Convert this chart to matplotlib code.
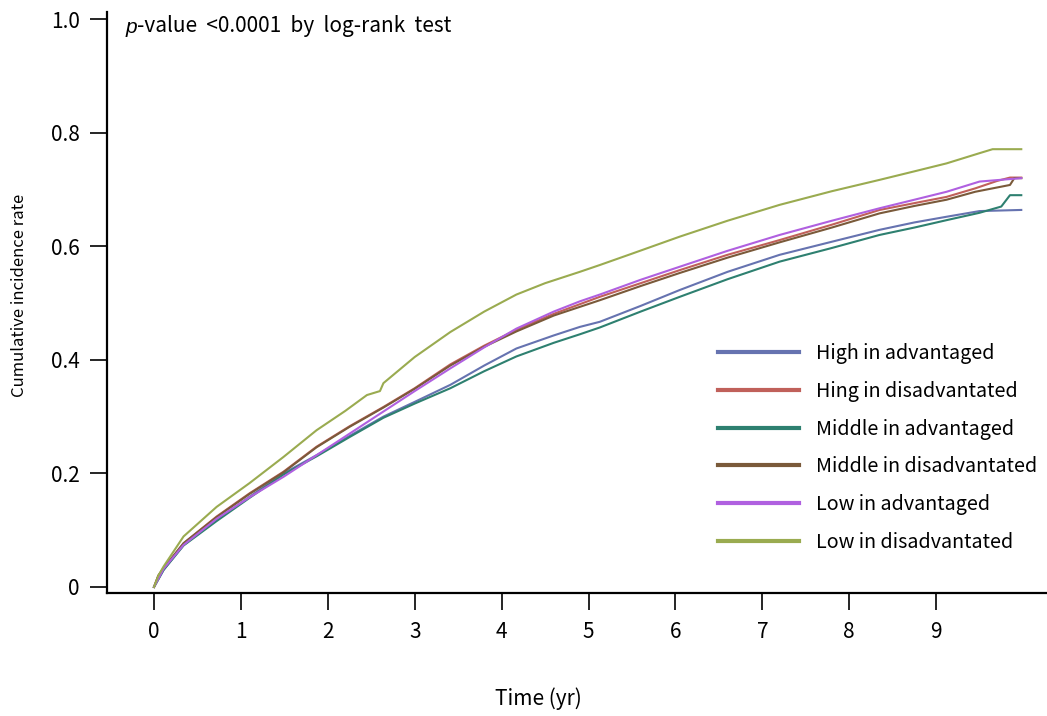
import matplotlib
matplotlib.use('Agg')
import matplotlib.pyplot as plt

plt.rcParams['font.family'] = ['Noto Sans CJK KR', 'DejaVu Sans']

labels = ['High in advantaged', 'Hing in disadvantated', 'Middle in advantaged',
          'Middle in disadvantated', 'Low in advantaged', 'Low in disadvantated']
colors = ['#6673b0', '#c0605a', '#2e8070', '#7a5a3a', '#b060e0', '#9aab50']

t_high_adv = [0, 0.11, 0.34, 0.72, 1.1, 1.49, 1.87, 2.25, 2.64, 3.0, 3.41, 3.8, 4.17, 4.6, 4.9,
              5.13, 5.6, 6.05, 6.6, 7.2, 7.8, 8.35, 8.75, 9.12, 9.5, 9.98]
y_high_adv = [0, 0.03, 0.074, 0.118, 0.159, 0.2, 0.232, 0.266, 0.30, 0.326, 0.356, 0.39, 0.42, 0.443, 0.458,
              0.467, 0.495, 0.523, 0.555, 0.585, 0.608, 0.629, 0.642, 0.652, 0.662, 0.664]

t_high_dis = [0, 0.05, 0.11, 0.34, 0.72, 1.1, 1.49, 1.87, 2.25, 2.64, 3.0, 3.41, 3.8, 4.17, 4.6, 4.9,
              5.13, 5.6, 6.05, 6.6, 7.2, 7.8, 8.35, 8.75, 9.12, 9.45, 9.7, 9.85, 9.98]
y_high_dis = [0, 0.02, 0.033, 0.077, 0.124, 0.165, 0.203, 0.247, 0.283, 0.317, 0.35, 0.392, 0.425, 0.453, 0.481, 0.498,
              0.511, 0.535, 0.558, 0.585, 0.611, 0.638, 0.664, 0.676, 0.687, 0.702, 0.715, 0.721, 0.721]

t_mid_adv = [0, 0.11, 0.34, 0.72, 1.1, 1.49, 1.87, 2.25, 2.64, 3.0, 3.41, 3.8, 4.17, 4.6, 4.9,
             5.13, 5.6, 6.05, 6.6, 7.2, 7.8, 8.35, 8.75, 9.12, 9.5, 9.75, 9.85, 9.98]
y_mid_adv = [0, 0.03, 0.073, 0.116, 0.157, 0.198, 0.23, 0.264, 0.298, 0.323, 0.35, 0.38, 0.406, 0.43, 0.445,
             0.457, 0.485, 0.511, 0.542, 0.573, 0.597, 0.620, 0.633, 0.646, 0.659, 0.67, 0.69, 0.69]

t_mid_dis = [0, 0.05, 0.11, 0.34, 0.72, 1.1, 1.49, 1.87, 2.25, 2.64, 3.0, 3.41, 3.8, 4.17, 4.6,
             5.13, 5.6, 6.05, 6.6, 7.2, 7.8, 8.35, 8.75, 9.12, 9.45, 9.85, 9.9, 9.98]
y_mid_dis = [0, 0.02, 0.033, 0.077, 0.123, 0.164, 0.202, 0.246, 0.282, 0.316, 0.349, 0.39, 0.423, 0.45, 0.478,
             0.505, 0.53, 0.553, 0.58, 0.607, 0.633, 0.658, 0.671, 0.682, 0.696, 0.708, 0.72, 0.72]

t_low_adv = [0, 0.11, 0.34, 0.72, 1.1, 1.49, 1.87, 2.25, 2.64, 3.0, 3.41, 3.8, 4.17, 4.6, 4.9,
             5.13, 5.6, 6.05, 6.6, 7.2, 7.8, 8.35, 8.75, 9.12, 9.5, 9.98]
y_low_adv = [0, 0.032, 0.074, 0.12, 0.158, 0.194, 0.232, 0.27, 0.309, 0.345, 0.385, 0.422, 0.455, 0.485, 0.503,
             0.515, 0.541, 0.564, 0.592, 0.620, 0.645, 0.667, 0.682, 0.696, 0.714, 0.72]

t_low_dis = [0, 0.05, 0.11, 0.34, 0.72, 1.1, 1.49, 1.87, 2.2, 2.45, 2.6, 2.64, 3.0, 3.41, 3.8, 4.17, 4.5, 4.9,
             5.13, 5.5, 6.05, 6.6, 7.2, 7.8, 8.35, 8.75, 9.12, 9.5, 9.65, 9.98]
y_low_dis = [0, 0.02, 0.036, 0.089, 0.141, 0.183, 0.229, 0.276, 0.31, 0.338, 0.345, 0.359, 0.405, 0.449, 0.485, 0.515, 0.535, 0.555,
             0.567, 0.587, 0.617, 0.645, 0.673, 0.697, 0.717, 0.732, 0.746, 0.764, 0.771, 0.771]

series = [(t_high_adv, y_high_adv), (t_high_dis, y_high_dis), (t_mid_adv, y_mid_adv),
          (t_mid_dis, y_mid_dis), (t_low_adv, y_low_adv), (t_low_dis, y_low_dis)]

fig = plt.figure(figsize=(10.47, 7.16), dpi=100)
ax = fig.add_axes([0.1022, 0.1718, 0.8978, 0.8112])

for (t, y), lab, c in zip(series, labels, colors):
    ax.plot(t, y, color=c, lw=1.5, label=lab)

ax.set_xlim(-0.541, 10.276)
ax.set_ylim(-0.0106, 1.0123)
ax.set_xticks(range(10))
ax.set_yticks([0, 0.2, 0.4, 0.6, 0.8, 1.0])
ax.set_yticklabels(['0', '0.2', '0.4', '0.6', '0.8', '1.0'])
ax.spines['top'].set_visible(False)
ax.spines['right'].set_visible(False)
for s in ['left', 'bottom']:
    ax.spines[s].set_linewidth(1.6)
ax.tick_params(axis='both', direction='out', length=12.5, width=1.2, labelsize=15)
ax.tick_params(axis='y', pad=7)
ax.tick_params(axis='x', pad=8)

ax.set_xlabel('Time (yr)', fontsize=15)
ax.xaxis.set_label_coords(0.4585, -0.163)
ax.set_ylabel('Cumulative incidence rate', fontsize=12)
ax.yaxis.set_label_coords(-0.084, 0.513)

ptxt = ax.text(-0.33, 0.986, 'p', fontsize=15, family='Liberation Sans', style='italic',
               va='center', ha='left')
ax.annotate('-value  <0.0001  by  log-rank  test', xy=(1, 0), xycoords=ptxt,
            fontsize=15, va='bottom', ha='left')

ax.legend(loc='upper left', bbox_to_anchor=(718 / 1047, 1 - 343 / 716),
          bbox_transform=fig.transFigure, frameon=False, fontsize=14.2,
          handlelength=4.1, handletextpad=0.85, labelspacing=0.85,
          borderpad=0, borderaxespad=0)
for line in ax.get_legend().get_lines():
    line.set_linewidth(3)

fig.savefig('out.png', dpi=100)
